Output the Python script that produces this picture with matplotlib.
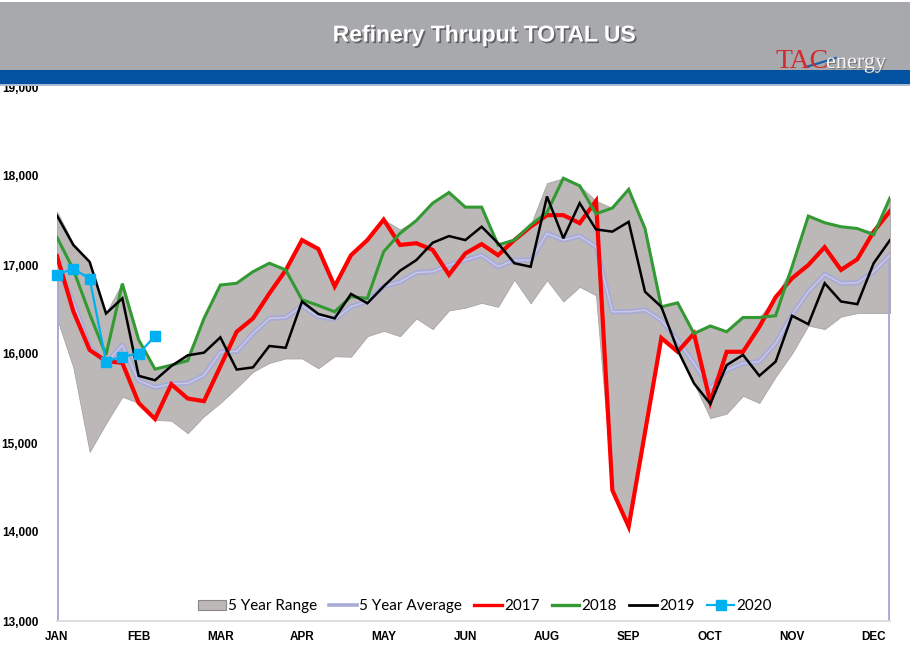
import numpy as np
import matplotlib
matplotlib.use("Agg")
import matplotlib.pyplot as plt
from matplotlib.patches import Rectangle, Patch
from matplotlib.lines import Line2D
import matplotlib.patheffects as pe

# ---------------- data (weekly, thousand b/d) ----------------
month_labels = ["JAN", "FEB", "MAR", "APR", "MAY", "JUN", "AUG", "SEP", "OCT", "NOV", "DEC"]
label_every = 5

range_upper = [17600, 17240, 17040, 16460, 16800, 16160, 15830, 15880, 15990, 16400,
               16780, 16800, 16930, 17020, 16950, 17280, 17180, 16760, 17110, 17280,
               17510, 17400, 17500, 17695, 17815, 17650, 17650, 17245, 17280, 17450,
               17920, 17975, 17890, 17720, 17640, 17850, 17410, 16530, 16575, 16230,
               16315, 16250, 16410, 16410, 16640, 16980, 17550, 17475, 17430, 17410,
               17375, 17755]
range_lower = [16400, 15850, 14900, 15220, 15520, 15450, 15260, 15250, 15110, 15300,
               15450, 15620, 15800, 15900, 15950, 15950, 15840, 15975, 15970, 16200,
               16260, 16200, 16400, 16280, 16490, 16520, 16575, 16530, 16835, 16570,
               16830, 16590, 16755, 16660, 14470, 14060, 15120, 16175, 16025, 15670,
               15280, 15330, 15530, 15450, 15745, 16005, 16320, 16280, 16420, 16460,
               16460, 16460]
avg5 = [16980, 16580, 16080, 15900, 16100, 15700, 15625, 15665, 15670, 15760,
        16020, 16030, 16230, 16400, 16410, 16540, 16420, 16390, 16530, 16590,
        16760, 16810, 16915, 16925, 17000, 17055, 17110, 16980, 17055, 17055,
        17355, 17280, 17325, 17205, 16475, 16475, 16495, 16380, 16155, 15895,
        15615, 15820, 15895, 15915, 16120, 16440, 16700, 16895, 16795, 16800,
        16925, 17110]
y2017 = [17100, 16480, 16045, 15920, 15900, 15450, 15270, 15660, 15500, 15470,
         15860, 16250, 16400, 16680, 16940, 17280, 17180, 16760, 17110, 17280,
         17510, 17225, 17245, 17170, 16890, 17130, 17235, 17110, 17280, 17430,
         17560, 17560, 17470, 17720, 14470, 14060, 15120, 16180, 16025, 16230,
         15460, 16025, 16025, 16305, 16640, 16850, 17000, 17200, 16945, 17065,
         17375, 17605]
y2018 = [17310, 16950, 16450, 15990, 16790, 16160, 15830, 15875, 15925, 16400,
         16775, 16795, 16925, 17020, 16945, 16610, 16545, 16475, 16645, 16625,
         17150, 17355, 17500, 17695, 17815, 17650, 17650, 17225, 17280, 17450,
         17590, 17975, 17890, 17575, 17640, 17850, 17410, 16530, 16575, 16230,
         16315, 16250, 16410, 16410, 16430, 16980, 17550, 17475, 17430, 17410,
         17340, 17755]
y2019 = [17555, 17225, 17035, 16455, 16625, 15755, 15705, 15865, 15985, 16015,
         16187, 15825, 15850, 16090, 16070, 16590, 16450, 16400, 16675, 16570,
         16760, 16935, 17055, 17250, 17325, 17280, 17430, 17245, 17020, 16980,
         17770, 17300, 17695, 17400, 17375, 17485, 16700, 16530, 16045, 15670,
         15440, 15875, 15990, 15755, 15915, 16430, 16335, 16795, 16590, 16560,
         17020, 17280]
y2020 = [16890, 16960, 16845, 15915, 15970, 16005, 16200]

y_min, y_max, y_step = 13000, 19000, 1000

# ---------------- figure ----------------
W, H = 910, 659
fig = plt.figure(figsize=(W / 100, H / 100), dpi=100)
fig.patch.set_facecolor("white")

def fy(px):
    return 1 - px / H

# header band
fig.patches.append(Rectangle((0, fy(70)), 1, fy(2) - fy(70), transform=fig.transFigure,
                             facecolor="#A8A9AD", edgecolor="none", zorder=0))
fig.patches.append(Rectangle((0, fy(84)), 1, fy(70) - fy(84), transform=fig.transFigure,
                             facecolor="#0153A2", edgecolor="none", zorder=0))
fig.patches.append(Rectangle((0, fy(86)), 1, fy(84) - fy(86), transform=fig.transFigure,
                             facecolor="#A9BCD3", edgecolor="none", zorder=0))

fig.text(484 / W, fy(35), "Refinery Thruput TOTAL US", color="white", fontsize=16.5,
         fontweight="bold", family="Liberation Sans", ha="center", va="center",
         path_effects=[pe.withSimplePatchShadow(offset=(1.2, -1.2), shadow_rgbFace="#444444",
                                                alpha=0.7)])
# logo
fig.text(775 / W, fy(68), "TAC", color="#D22B2F", fontsize=20, family="Liberation Serif",
         ha="left", va="baseline")
fig.text(826 / W, fy(68), "energy", color="#F4F4F4", fontsize=16, family="Liberation Serif",
         ha="left", va="baseline",
         path_effects=[pe.withSimplePatchShadow(offset=(0.8, -0.8), shadow_rgbFace="#555555",
                                                alpha=0.6)])
fig.add_artist(Line2D([806 / W, 836 / W], [fy(67), fy(58)], color="#1C5DAA", lw=1.6,
                      transform=fig.transFigure))

# ---------------- axes ----------------
ax = fig.add_axes([57 / W, (H - 621) / H, 833 / W, 534 / H])
x = np.arange(len(avg5))
n = len(avg5)

ax.fill_between(x, range_lower, range_upper, facecolor="#BDB8B8", edgecolor="#A8A4A4",
                linewidth=0.6, zorder=1)

avg_col = "#A9ABD6"
ax.plot(x, avg5, color=avg_col, lw=3.8, zorder=2, solid_joinstyle="round")
ax.plot(x, avg5, color="#C9CAE8", lw=1.0, zorder=2.1, solid_joinstyle="round")
ax.vlines([x[0], x[-1]], y_min, [avg5[0], avg5[-1]], color=avg_col, lw=2.8, zorder=2)

ax.plot(x, y2017, color="#FF0000", lw=3.0, zorder=3, solid_joinstyle="miter")
ax.plot(x, y2018, color="#339933", lw=2.2, zorder=4, solid_joinstyle="miter")
ax.plot(x, y2019, color="#000000", lw=1.8, zorder=5, solid_joinstyle="miter")
ax.plot(np.arange(len(y2020)), y2020, color="#00B0F0", lw=1.6, marker="s", markersize=7,
        markeredgecolor="#00B0F0", zorder=6, clip_on=False)

ax.set_xlim(0, n - 1)
ax.set_ylim(y_min, y_max)
for s in ["top", "right", "left"]:
    ax.spines[s].set_visible(False)
ax.spines["bottom"].set_color("#D9D9D9")
ax.spines["bottom"].set_linewidth(1.2)

yt = np.arange(y_min, y_max + 1, y_step)
ax.set_yticks(yt)
ax.set_yticklabels([f"{v:,}" for v in yt], fontsize=8.5, fontweight="bold",
                   family="Liberation Sans")
xt = np.arange(0, n, label_every)
ax.set_xticks(xt)
ax.set_xticklabels(month_labels, fontsize=8.5, fontweight="bold", family="Liberation Sans")
ax.tick_params(axis="y", length=0, pad=13.5)
ax.tick_params(axis="x", length=0, pad=7)

handles = [
    Patch(facecolor="#BDB8B8", edgecolor="#8C8888", linewidth=0.8),
    Line2D([], [], color=avg_col, lw=2.6),
    Line2D([], [], color="#FF0000", lw=2.4),
    Line2D([], [], color="#339933", lw=2.4),
    Line2D([], [], color="#000000", lw=2.0),
    Line2D([], [], color="#00B0F0", lw=1.6, marker="s", markersize=7),
]
labels = ["5 Year Range", "5 Year Average", "2017", "2018", "2019", "2020"]
leg = ax.legend(handles, labels, loc="center", bbox_to_anchor=(0.514, 0.028), ncol=6,
                frameon=False, prop={"family": "Lato", "size": 11}, handlelength=1.8,
                handleheight=0.6, handletextpad=0.15, columnspacing=0.8)

fig.savefig("out.png", dpi=100)
